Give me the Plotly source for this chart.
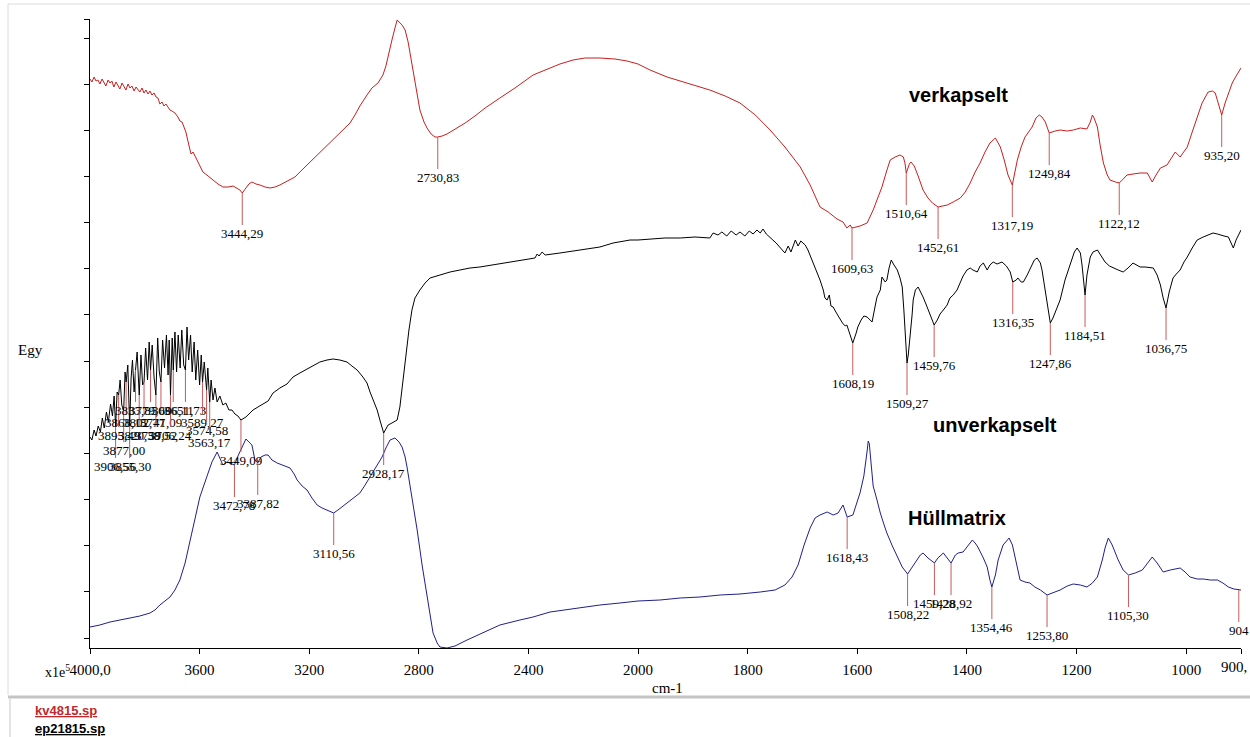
import numpy as np
import plotly.graph_objects as go

# ---------------- data (wavenumber in cm-1, intensity in arbitrary "Egy" units) ----------------
red_wn = [4000, 3993, 3985, 3978, 3971, 3964, 3956, 3949, 3942, 3934, 3927, 3920, 3913, 3905, 3898, 3891,
          3883, 3876, 3869, 3861, 3854, 3847, 3839, 3832, 3825, 3818, 3810, 3803, 3796, 3788, 3781, 3774,
          3766, 3759, 3752, 3745, 3737, 3730, 3723, 3715, 3708, 3701, 3690, 3679, 3672, 3664, 3657, 3650,
          3646, 3642, 3635, 3631, 3624, 3613, 3599, 3588, 3569, 3551, 3533, 3515, 3496, 3478, 3463, 3453,
          3444.29, 3431, 3420, 3409, 3394, 3380, 3361, 3343, 3325, 3307, 3288, 3270, 3252, 3234, 3208, 3179,
          3153, 3124, 3088, 3051, 3033, 3015, 2989, 2971, 2949, 2931, 2920, 2909, 2898, 2887, 2879, 2872,
          2861, 2850, 2839, 2832, 2821, 2806, 2796, 2781, 2770, 2755, 2741, 2730.83, 2715, 2697, 2679, 2660,
          2631, 2595, 2558, 2504, 2449, 2383, 2358, 2321, 2285, 2237, 2194, 2139, 2084, 2040, 2000,
          1978, 1947, 1905, 1869, 1841, 1814, 1786, 1759, 1732, 1704, 1686, 1668, 1653, 1637, 1626, 1619,
          1613, 1609.63, 1595, 1582, 1571, 1562, 1555, 1547, 1540, 1531, 1522, 1516, 1513, 1510.64, 1505,
          1502, 1496, 1489, 1480, 1471, 1463, 1452.61, 1445, 1436, 1425, 1412, 1403, 1394, 1385, 1376, 1367,
          1358, 1348, 1339, 1332, 1325, 1317.19, 1312, 1308, 1301, 1294, 1281, 1274, 1268, 1263, 1257,
          1249.84, 1239, 1230, 1217, 1206, 1193, 1181, 1175, 1171, 1168, 1162, 1157, 1151, 1144, 1139, 1129,
          1122.12, 1113, 1108, 1097, 1084, 1071, 1062, 1055, 1047, 1035, 1025, 1020, 1011, 1004, 998, 989,
          980, 971, 960, 952, 947, 940, 935.20, 929, 923, 916, 910, 900]
red_val = [569, 566, 571, 567, 568, 564, 569, 566, 562, 568, 565, 567, 561, 566, 563, 559,
           565, 562, 558, 564, 560, 562, 557, 561, 559, 556, 560, 555, 558, 554, 557, 553,
           555, 551, 550, 544, 546, 542, 544, 540, 538, 537, 535, 531, 527, 526, 521, 516,
           511, 505, 498, 494, 496, 490, 482, 476, 472, 468, 464, 461, 461, 462, 460, 458,
           455, 460, 464, 466, 464, 463, 461, 460, 461, 463, 466, 468, 471, 476, 483, 491,
           497, 505, 515, 525, 533, 542, 553, 560, 565, 573, 582, 596, 608, 620, 628, 626,
           623, 618, 606, 595, 578, 551, 538, 526, 520, 514, 511, 511, 512, 514, 517, 520,
           525, 532, 540, 550, 560, 573, 576, 580, 584, 588, 590, 590, 589, 587, 584,
           578, 571, 564, 558, 552, 545, 533, 518, 501, 481, 463, 441, 436, 429, 426, 420,
           423, 420, 422, 425, 438, 450, 461, 476, 488, 491, 493, 491, 485, 475, 484,
           486, 482, 472, 458, 450, 445, 441, 442, 443, 446, 450, 456, 465, 476, 485, 496,
           505, 510, 501, 488, 473, 463, 478, 488, 501, 511, 521, 530, 533, 531, 526,
           515, 517, 518, 517, 518, 520, 519, 526, 533, 530, 521, 503, 485, 473, 468, 466,
           465, 470, 473, 474, 475, 475, 466, 473, 480, 483, 491, 496, 491, 496, 501, 516,
           531, 545, 556, 557, 555, 543, 533, 545, 555, 565, 571, 580]

black_wn = [4000, 3993, 3985, 3978, 3970, 3962, 3955, 3948, 3940, 3933, 3925, 3918, 3912, 3906.56, 3901,
            3895.49, 3890, 3884, 3877.00, 3872, 3868.15, 3862, 3855.30, 3850, 3845, 3839, 3833.85, 3828,
            3820.38, 3814, 3808, 3802.77, 3797, 3790, 3784, 3779.06, 3773, 3766, 3759.52, 3753, 3747,
            3741.09, 3735, 3728, 3721, 3715, 3711, 3706.24, 3700, 3696.11, 3690, 3684, 3678, 3671, 3665,
            3658, 3651.73, 3646, 3640, 3633, 3627, 3620, 3614, 3607, 3600, 3594, 3589.27, 3583, 3574.58,
            3570, 3563.17, 3558, 3551, 3544, 3536, 3526, 3515, 3504, 3493, 3482, 3471, 3460, 3449.09, 3442,
            3431, 3416, 3405, 3387, 3369, 3350, 3332, 3307, 3281, 3259, 3234, 3208, 3186, 3161, 3135, 3113,
            3088, 3062, 3044, 3025, 3004, 2989, 2978, 2967, 2952, 2942, 2934, 2928.17, 2920, 2912, 2898,
            2879, 2869, 2858, 2847, 2836, 2825, 2814, 2796, 2777, 2759, 2723, 2686, 2650, 2613, 2577, 2504,
            2431, 2376, 2368, 2361, 2350, 2339, 2285, 2212, 2139, 2091, 2029, 2000,
            1978, 1951, 1923, 1896, 1869, 1863, 1854, 1847, 1838, 1830, 1821, 1814, 1805, 1797, 1790, 1783,
            1777, 1772, 1766, 1759, 1754, 1748, 1741, 1735, 1732, 1726, 1721, 1713, 1708, 1703, 1695, 1690,
            1684, 1681, 1675, 1672, 1668, 1662, 1659, 1655, 1651, 1648, 1644, 1639, 1633, 1627, 1622, 1619,
            1613, 1608.19, 1602, 1599, 1593, 1588, 1582, 1577, 1573, 1567, 1564, 1558, 1555, 1549, 1546,
            1542, 1538, 1533, 1527, 1522, 1518, 1515, 1513, 1511, 1509.27, 1507, 1504, 1500, 1498, 1494,
            1489, 1484, 1480, 1474, 1467, 1459.76, 1454, 1449, 1443, 1436, 1431, 1425, 1418, 1412, 1407,
            1400, 1394, 1389, 1381, 1376, 1370, 1363, 1358, 1352, 1345, 1336, 1328, 1321, 1316.35, 1310,
            1307, 1301, 1297, 1290, 1283, 1277, 1272, 1266, 1263, 1257, 1252, 1247.86, 1243, 1237, 1230,
            1221, 1212, 1204, 1199, 1193, 1190, 1184.51, 1181, 1175, 1170, 1162, 1155, 1148, 1140, 1133,
            1124, 1115, 1106, 1097, 1089, 1084, 1075, 1066, 1060, 1053, 1047, 1042, 1036.75, 1031, 1024,
            1018, 1011, 1004, 998, 989, 980, 969, 960, 951, 943, 938, 931, 923, 918, 914, 909, 900]
black_val = [211, 208, 218, 212, 222, 216, 230, 220, 236, 226, 244, 232, 252, 222, 256,
             253, 268, 243, 238, 276, 266, 283, 222, 270, 288, 256, 278, 296,
             253, 293, 263, 266, 300, 268, 306, 278, 303, 270, 253, 310, 276,
             266, 308, 280, 313, 273, 308, 253, 310, 278, 316, 276, 313, 280, 318,
             283, 278, 321, 288, 313, 276, 306, 268, 298, 263, 293, 266, 286, 258,
             280, 246, 268, 248, 260, 246, 252, 243, 245, 238, 238, 234, 232, 228, 229,
             231, 235, 238, 241, 244, 247, 255, 260, 264, 271, 275, 279, 283, 286, 288, 289,
             288, 286, 282, 278, 271, 265, 256, 248, 238, 228, 220, 215, 219, 223, 225,
             228, 241, 268, 293, 318, 338, 350, 358, 365, 370, 373, 376, 378, 380, 381, 384,
             387, 390, 394, 392, 396, 393, 395, 398, 401, 405, 408, 408,
             409, 410, 410, 411, 410, 415, 413, 416, 412, 417, 413, 416, 412, 417, 414, 418,
             415, 419, 414, 411, 408, 405, 401, 397, 395, 402, 396, 408, 402, 407, 403, 398,
             390, 385, 378, 373, 368, 358, 350, 348, 353, 342, 341, 336, 330, 325, 322, 323,
             313, 305, 315, 321, 328, 332, 331, 328, 326, 343, 351, 358, 371, 366, 368,
             380, 388, 383, 378, 370, 361, 338, 315, 298, 285, 293, 308, 333, 348, 358,
             361, 356, 351, 343, 333, 323, 328, 334, 338, 343, 350, 353, 358, 365, 372,
             378, 380, 378, 376, 382, 385, 378, 383, 386, 384, 386, 382, 376, 366, 368,
             370, 366, 366, 373, 382, 388, 390, 385, 378, 358, 338, 325, 330, 338, 348,
             368, 383, 396, 400, 395, 383, 353, 373, 391, 396, 398, 392, 386, 382, 380,
             378, 376, 380, 385, 383, 381, 381, 380, 380, 373, 363, 350, 340, 356, 370,
             374, 378, 386, 391, 400, 408, 411, 413, 415, 414, 413, 412, 411, 405, 400, 408, 418]

blue_wn = [4000, 3964, 3927, 3891, 3854, 3818, 3781, 3763, 3745, 3726, 3708, 3690, 3672, 3653, 3635, 3617,
           3599, 3584, 3573, 3555, 3536, 3526, 3515, 3500, 3489, 3472.78, 3460, 3445, 3431, 3420, 3409,
           3398, 3387.82, 3376, 3361, 3350, 3336, 3317, 3296, 3270, 3255, 3244, 3226, 3208, 3190, 3171,
           3153, 3135, 3120, 3110.56, 3095, 3077, 3062, 3040, 3015, 2996, 2978, 2956, 2934, 2920, 2905,
           2887, 2872, 2861, 2850, 2843, 2832, 2821, 2806, 2788, 2770, 2759, 2748, 2733, 2723, 2697, 2668,
           2624, 2577, 2504, 2431, 2383, 2321, 2248, 2139, 2066, 2000,
           1960, 1923, 1887, 1850, 1814, 1777, 1750, 1732, 1719, 1708, 1697, 1686, 1677, 1668, 1655, 1644,
           1635, 1626, 1618.43, 1608, 1600, 1595, 1588, 1584, 1582, 1580, 1578, 1576, 1573, 1571, 1564,
           1558, 1551, 1546,
           1536, 1527, 1518, 1508.22, 1500, 1491, 1485, 1480, 1471, 1459.28, 1453, 1443, 1436, 1428.92,
           1421, 1416, 1407, 1398, 1390, 1385, 1380, 1370, 1363, 1358, 1354.46, 1348, 1343, 1334, 1323,
           1317, 1312, 1307, 1303, 1294, 1285, 1276, 1266, 1253.80, 1243, 1230, 1217, 1206, 1193, 1181,
           1171, 1162, 1153, 1148, 1142, 1135, 1124, 1115, 1105.30, 1093, 1080, 1071, 1062, 1053, 1042,
           1029, 1011, 1002, 993, 980, 969, 956, 943, 933, 923, 913, 904, 900]
blue_val = [21, 23, 26, 28, 30, 32, 35, 38, 43, 47, 51, 58, 68, 85, 106, 130,
            151, 163, 171, 186, 196, 190, 183, 186, 185, 183, 192, 201, 209, 206, 203,
            188, 185, 191, 193, 193, 188, 185, 183, 180, 174, 168, 162, 158, 150, 143,
            140, 138, 136, 135, 138, 142, 145, 150, 155, 163, 171, 181, 191, 200, 208,
            210, 206, 201, 191, 181, 163, 143, 118, 83, 51, 31, 15, 5, 1, 0, 2,
            8, 14, 23, 28, 31, 36, 39, 43, 45, 47,
            48, 50, 51, 53, 54, 56, 58, 63, 71, 83, 103, 120, 130, 133, 136, 133,
            135, 143, 131, 133, 148, 155, 172, 186, 197, 207, 204, 192, 174, 162, 148,
            135, 123, 115,
            102, 91, 81, 74, 81, 88, 93, 95, 90, 85, 90, 95, 90, 85,
            93, 95, 96, 103, 108, 105, 101, 90, 81, 68, 61, 73, 88, 103, 110,
            103, 91, 78, 68, 66, 65, 61, 58, 53, 55, 58, 62, 64, 63, 61,
            65, 71, 88, 100, 110, 103, 88, 78, 73, 75, 78, 85, 91, 85, 76,
            78, 80, 76, 71, 69, 69, 68, 68, 65, 61, 59, 58, 58]

# peak picks (wavenumbers) and their labels
red_peaks = [3444.29, 2730.83, 1609.63, 1510.64, 1452.61, 1317.19, 1249.84, 1122.12, 935.20]
black_peaks = [3906.56, 3895.49, 3877.00, 3868.15, 3855.30, 3833.85, 3820.38, 3802.77, 3779.06,
               3759.52, 3741.09, 3706.24, 3696.11, 3651.73, 3589.27, 3574.58, 3563.17,
               3449.09, 2928.17, 1608.19, 1509.27, 1459.76, 1316.35, 1247.86, 1184.51, 1036.75]
blue_peaks = [3472.78, 3387.82, 3110.56, 1618.43, 1508.22, 1459.28, 1428.92, 1354.46, 1253.80, 1105.30, 904]
blue_peak_text = ["3472,78", "3387,82", "3110,56", "1618,43", "1508,22", "1459,28", "1428,92",
                  "1354,46", "1253,80", "1105,30", "904"]

x_left_ticks = [4000, 3600, 3200, 2800, 2400]
x_left_text = ["4000,0", "3600", "3200", "2800", "2400"]
x_right_ticks = [2000, 1800, 1600, 1400, 1200, 1000, 900]
x_right_text = ["2000", "1800", "1600", "1400", "1200", "1000", ""]
x_end_label = "900,"

series_names = ["verkapselt", "unverkapselt", "Hüllmatrix"]
name_wn = [1416, 1348, 1418]
name_val = [553, 223, 130]
files = ["kv4815.sp", "ep21815.sp"]

# ---------------- styling ----------------
RED = "#c81e1e"
BLACK = "#000000"
BLUE = "#1f1f8a"
PICK = "#c85a5a"
NUMFONT = "Liberation Serif, DejaVu Serif, serif"
SERIF = "Liberation Serif, DejaVu Serif, serif"
SANS = "Liberation Sans, Arial, sans-serif"

W, H = 1250, 737
L, R, T, B = 90, 9, 19, 89
PW, PH = W - L - R, H - T - B
SPLIT = 548 / PW   # 4000-2000 compressed, 2000-900 expanded (IR convention)


def px(x):
    return (x - L) / PW


def py(y):
    return (H - B - y) / PH


fig = go.Figure()


def add_series(wn, val, color, name):
    wn = np.asarray(wn, dtype=float)
    val = np.asarray(val, dtype=float)
    left = wn >= 2000
    right = wn <= 2000
    fig.add_trace(go.Scatter(x=wn[left], y=val[left], mode="lines", name=name, xaxis="x", yaxis="y",
                             line=dict(color=color, width=1), hoverinfo="skip", showlegend=False))
    fig.add_trace(go.Scatter(x=wn[right], y=val[right], mode="lines", name=name, xaxis="x2", yaxis="y",
                             line=dict(color=color, width=1), hoverinfo="skip", showlegend=False))


add_series(red_wn, red_val, RED, series_names[0])
add_series(black_wn, black_val, BLACK, series_names[1])
add_series(blue_wn, blue_val, BLUE, series_names[2])


def fmt(w):
    return f"{w:.2f}".replace(".", ",")


annotations = []


def add_peaks(peaks, texts, wn, val):
    xs = np.asarray(wn, dtype=float)[::-1]
    ys = np.asarray(val, dtype=float)[::-1]
    for w, t in zip(peaks, texts):
        y = float(np.interp(w, xs, ys))
        annotations.append(dict(
            x=w, y=y, xref="x" if w >= 2000 else "x2", yref="y", text=t,
            showarrow=True, arrowhead=0, arrowwidth=1, arrowcolor=PICK, ax=0, ay=40,
            standoff=0, startstandoff=0, borderpad=0,
            font=dict(family=NUMFONT, size=13, color="black")))


add_peaks(red_peaks, [fmt(w) for w in red_peaks], red_wn, red_val)
add_peaks(black_peaks, [fmt(w) for w in black_peaks], black_wn, black_val)
add_peaks(blue_peaks, blue_peak_text, blue_wn, blue_val)

# curve names
for name, xw, yv in zip(series_names, name_wn, name_val):
    annotations.append(dict(x=xw, y=yv, xref="x2", yref="y", text="<b>" + name + "</b>", showarrow=False,
                            font=dict(family=SANS, size=20, color="black"), xanchor="center", yanchor="middle"))

# axis titles and misc text
annotations += [
    dict(x=px(30), y=py(350), xref="paper", yref="paper", xanchor="center", yanchor="middle",
         text="Egy", showarrow=False, font=dict(family=SERIF, size=15, color="black")),
    dict(x=px(57), y=py(671), xref="paper", yref="paper", xanchor="center", yanchor="middle",
         text="x1e<sup>5</sup>", showarrow=False, font=dict(family=SERIF, size=14, color="black")),
    dict(x=px(1249), y=py(667), xref="paper", yref="paper", xanchor="right", yanchor="middle",
         text=x_end_label, showarrow=False, font=dict(family=NUMFONT, size=15, color="black")),
    dict(x=px(668), y=py(688), xref="paper", yref="paper", xanchor="center", yanchor="middle",
         text="cm-1", showarrow=False, font=dict(family=SERIF, size=15, color="black")),
    dict(x=px(33), y=py(710), xref="paper", yref="paper", xanchor="left", yanchor="middle",
         text="<b><u>" + files[0] + "</u></b>", showarrow=False,
         font=dict(family=SANS, size=13, color="#c0282d")),
    dict(x=px(33), y=py(728), xref="paper", yref="paper", xanchor="left", yanchor="middle",
         text="<b><u>" + files[1] + "</u></b>", showarrow=False,
         font=dict(family=SANS, size=13, color="black")),
]

shapes = [
    dict(type="line", xref="paper", yref="paper", x0=px(8), x1=px(1250), y0=py(4), y1=py(4),
         line=dict(color="#dcdcdc", width=1)),
    dict(type="line", xref="paper", yref="paper", x0=px(8), x1=px(8), y0=py(4), y1=py(695),
         line=dict(color="#dcdcdc", width=1)),
    dict(type="line", xref="paper", yref="paper", x0=px(8), x1=px(1250), y0=py(697), y1=py(697),
         line=dict(color="#c4c4c4", width=3)),
    dict(type="line", xref="paper", yref="paper", x0=px(10), x1=px(10), y0=py(699), y1=py(737),
         line=dict(color="#c8c8c8", width=1)),
]

ytick_vals = [10 + 46.15 * k for k in range(14)] + [629]

axis_common = dict(showline=True, linecolor="black", linewidth=1, ticks="outside", ticklen=5,
                   tickcolor="black", tickwidth=1, showgrid=False, zeroline=False, anchor="y",
                   tickfont=dict(family=NUMFONT, size=15, color="black"), ticklabelstandoff=3,
                   ticklabeloverflow="allow", automargin=False)

fig.update_layout(
    width=W, height=H,
    margin=dict(l=L, r=R, t=T, b=B, pad=0, autoexpand=False),
    paper_bgcolor="white", plot_bgcolor="white",
    showlegend=False, hovermode=False,
    xaxis=dict(domain=[0, SPLIT], range=[4000, 2000], tickmode="array",
               tickvals=x_left_ticks, ticktext=x_left_text, **axis_common),
    xaxis2=dict(domain=[SPLIT, 1], range=[2000, 900], tickmode="array",
                tickvals=x_right_ticks, ticktext=x_right_text, **axis_common),
    yaxis=dict(domain=[0, 1], range=[0, 629], showline=True, linecolor="black", linewidth=1,
               ticks="outside", ticklen=5, tickcolor="black", tickmode="array", tickvals=ytick_vals,
               showticklabels=False, showgrid=False, zeroline=False, automargin=False),
    annotations=annotations,
    shapes=shapes,
)

fig.write_html("out.html")
